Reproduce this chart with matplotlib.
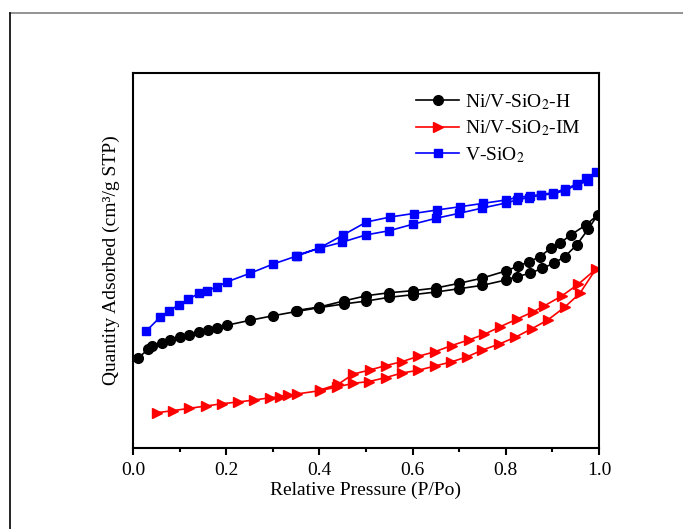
import matplotlib
matplotlib.use('Agg')
import matplotlib.pyplot as plt
from matplotlib.lines import Line2D
from matplotlib.ticker import MultipleLocator, FormatStrFormatter

plt.rcParams['font.family'] = ['Liberation Serif', 'DejaVu Serif']
plt.rcParams['mathtext.fontset'] = 'stix'

# --- N2 isotherms: adsorption branch (rising P/Po) then desorption branch ---
h_ads_p = [0.010, 0.033, 0.041, 0.063, 0.079, 0.101, 0.121, 0.141, 0.161, 0.181, 0.201,
           0.251, 0.301, 0.353, 0.399, 0.452, 0.501, 0.550, 0.600, 0.650, 0.700, 0.750,
           0.800, 0.823, 0.852, 0.878, 0.903, 0.927, 0.952, 0.977, 0.997]
h_ads_q = [89.7, 98.7, 102.0, 105.3, 108.0, 110.7, 113.3, 115.7, 118.0, 120.0, 122.7,
           127.7, 132.3, 136.7, 140.3, 144.0, 147.0, 150.7, 153.3, 156.0, 159.3, 162.7,
           168.0, 171.3, 174.7, 179.7, 184.7, 191.5, 203.0, 219.0, 233.0]
h_des_p = [0.972, 0.939, 0.916, 0.898, 0.873, 0.850, 0.827, 0.800, 0.750, 0.700, 0.650,
           0.600, 0.550, 0.501, 0.452, 0.400, 0.350]
h_des_q = [223.0, 213.0, 204.7, 200.3, 191.3, 186.3, 182.0, 177.0, 170.0, 164.7, 160.0,
           157.3, 155.3, 152.3, 147.0, 141.0, 137.5]

im_ads_p = [0.051, 0.085, 0.121, 0.157, 0.191, 0.225, 0.260, 0.295, 0.315, 0.333, 0.351,
            0.401, 0.437, 0.473, 0.507, 0.543, 0.577, 0.612, 0.648, 0.682, 0.716, 0.750,
            0.786, 0.820, 0.856, 0.890, 0.926, 0.959, 0.993]
im_ads_q = [35.3, 37.3, 39.7, 42.0, 44.3, 46.0, 48.0, 50.3, 51.3, 52.7, 54.0,
            57.3, 61.0, 64.7, 66.5, 70.5, 75.0, 77.7, 82.0, 86.0, 91.0, 98.0,
            104.0, 110.7, 119.3, 128.0, 140.7, 154.7, 178.7]
im_des_p = [0.956, 0.920, 0.882, 0.859, 0.823, 0.788, 0.754, 0.720, 0.684, 0.648, 0.612,
            0.577, 0.543, 0.508, 0.473, 0.440, 0.401]
im_des_q = [164.0, 152.0, 142.0, 136.3, 128.7, 121.3, 113.7, 108.0, 102.5, 96.3, 91.7,
            86.3, 82.5, 78.0, 74.0, 63.7, 58.0]

v_ads_p = [0.029, 0.058, 0.078, 0.099, 0.119, 0.141, 0.159, 0.181, 0.201, 0.251, 0.301,
           0.353, 0.401, 0.448, 0.499, 0.550, 0.600, 0.650, 0.700, 0.750, 0.800, 0.823,
           0.850, 0.876, 0.901, 0.927, 0.952, 0.976, 0.994]
v_ads_q = [117.3, 130.7, 137.3, 143.3, 148.7, 154.7, 157.3, 161.3, 166.0, 174.7, 184.0,
           192.3, 200.0, 205.7, 213.0, 217.3, 223.7, 229.7, 234.7, 240.0, 245.0, 248.0,
           250.5, 253.0, 254.0, 257.5, 263.0, 267.0, 276.3]
v_des_p = [0.973, 0.952, 0.927, 0.902, 0.876, 0.852, 0.826, 0.800, 0.752, 0.702, 0.652,
           0.602, 0.552, 0.501, 0.451, 0.400, 0.350]
v_des_q = [270.0, 264.0, 258.7, 255.3, 253.5, 252.0, 250.7, 248.0, 244.7, 241.3, 238.0,
           234.5, 231.0, 226.0, 213.0, 200.0, 192.5]

series = [
    ('Ni/V-SiO$_2$-H', h_ads_p, h_ads_q, h_des_p, h_des_q, 'black', 'o', 7),
    ('Ni/V-SiO$_2$-IM', im_ads_p, im_ads_q, im_des_p, im_des_q, 'red', '>', 7.5),
    ('V-SiO$_2$', v_ads_p, v_ads_q, v_des_p, v_des_q, 'blue', 's', 6.3),
]

fig = plt.figure(figsize=(6.83, 5.29), dpi=100)
ax = fig.add_axes([0.1947, 0.1531, 0.6823, 0.7089])

for label, ap, aq, dp, dq, color, marker, ms in series:
    ax.plot(ap + dp, aq + dq, color=color, marker=marker, markersize=ms,
            linewidth=1.2, label=label)

ax.set_xlim(0, 1.0)
ax.set_ylim(0, 375)
ax.xaxis.set_major_locator(MultipleLocator(0.2))
ax.xaxis.set_minor_locator(MultipleLocator(0.1))
ax.xaxis.set_major_formatter(FormatStrFormatter('%.1f'))
ax.tick_params(axis='x', which='major', direction='out', length=5, width=1.5,
               labelsize=14, pad=5, top=False)
ax.tick_params(axis='x', which='minor', direction='out', length=3, width=1.5, top=False)
ax.tick_params(axis='y', which='both', left=False, right=False, labelleft=False)
for sp in ax.spines.values():
    sp.set_linewidth(1.5)

ax.set_xlabel('Relative Pressure (P/Po)', fontsize=14, labelpad=2)
ax.set_ylabel('Quantity Adsorbed (cm³/g STP)', fontsize=14, labelpad=9)

ax.legend(loc='upper right', frameon=False, fontsize=14, handlelength=2.2,
          handletextpad=0.3, labelspacing=0.35, bbox_to_anchor=(0.99, 0.985),
          borderaxespad=0.3)

# outer frame (top and left edges only)
fig.add_artist(Line2D([10 / 683, 1.0], [1 - 13 / 529, 1 - 13 / 529],
                      transform=fig.transFigure, color='#808080', linewidth=1.2))
fig.add_artist(Line2D([10 / 683, 10 / 683], [0.0, 1 - 13 / 529],
                      transform=fig.transFigure, color='black', linewidth=1.2))

fig.savefig('out.png', dpi=100)
